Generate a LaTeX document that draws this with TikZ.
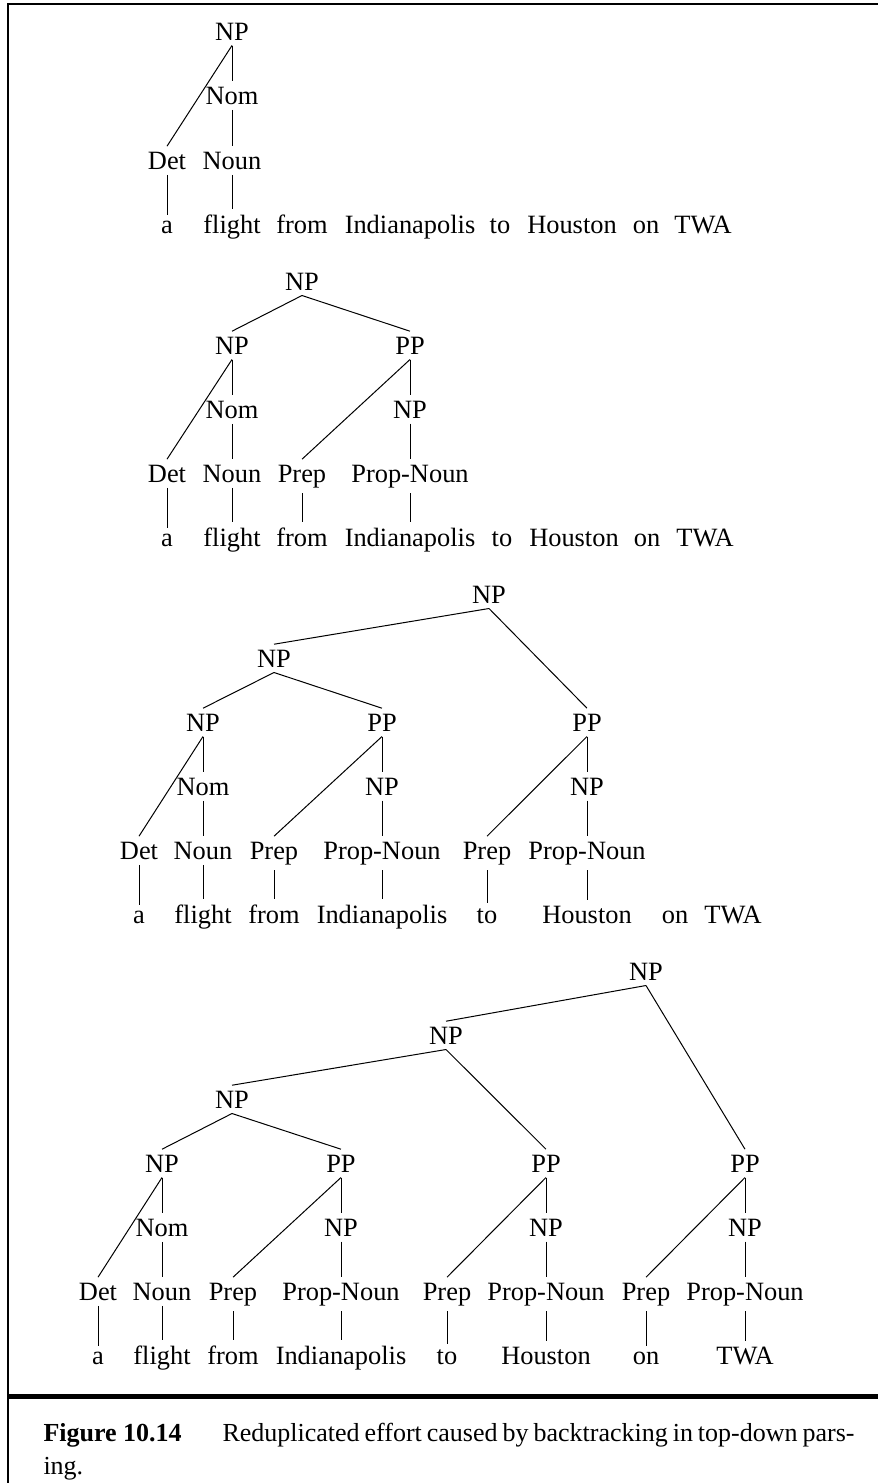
\documentclass[tikz,border=0pt]{standalone}
\usepackage{fontspec}
\setmainfont{Liberation Serif}

\begin{document}
\begin{tikzpicture}[x=0.5pt,y=-0.5pt,line width=0.5pt,
    sym/.style={anchor=base,inner xsep=1pt,inner ysep=2.5pt,font=\fontsize{13.2}{15.8}\selectfont},
    capt/.style={anchor=base west,inner sep=0pt,font=\fontsize{13}{15.6}\selectfont}]
  \useasboundingbox (0,0) rectangle (878,1483);

  % frame
  \draw[line width=1pt] (7.5,1483) -- (7.5,4) -- (878,4);
  \draw[line width=2.5pt] (7.5,1396) -- (878,1396);

  % tree 1
  \node[sym] (aNP) at (232,40) {NP};
  \node[sym] (aNom) at (232,104) {Nom};
  \node[sym] (aDet) at (167,169) {Det};
  \node[sym] (aNoun) at (232,169) {Noun};
  \node[sym] (aw1) at (167,233) {a};
  \node[sym] (aw2) at (232,233) {flight};
  \node[sym] (aw3) at (302,233) {from};
  \node[sym] (aw4) at (410,233) {Indianapolis};
  \node[sym] (aw5) at (500,233) {to};
  \node[sym] (aw6) at (572,233) {Houston};
  \node[sym] (aw7) at (646,233) {on};
  \node[sym] (aw8) at (703,233) {TWA};

  \path (aNP.south) edge (aDet.north)
        (aNP.south) edge (aNom.north)
        (aNom.south) edge (aNoun.north)
        (aDet.south) edge (aw1.north)
        (aNoun.south) edge (aw2.north);

  % tree 2
  \node[sym] (bNP) at (302,290) {NP};
  \node[sym] (bNPa) at (232,354) {NP};
  \node[sym] (bPP) at (410,354) {PP};
  \node[sym] (bNom) at (232,418) {Nom};
  \node[sym] (bNPb) at (410,418) {NP};
  \node[sym] (bDet) at (167,482) {Det};
  \node[sym] (bNoun) at (232,482) {Noun};
  \node[sym] (bPrep) at (302,482) {Prep};
  \node[sym] (bPN) at (410,482) {Prop-Noun};
  \node[sym] (bw1) at (167,546) {a};
  \node[sym] (bw2) at (232,546) {flight};
  \node[sym] (bw3) at (302,546) {from};
  \node[sym] (bw4) at (410,546) {Indianapolis};
  \node[sym] (bw5) at (502,546) {to};
  \node[sym] (bw6) at (574,546) {Houston};
  \node[sym] (bw7) at (647,546) {on};
  \node[sym] (bw8) at (705,546) {TWA};

  \path (bNP.south) edge (bNPa.north)
        (bNP.south) edge (bPP.north)
        (bNPa.south) edge (bDet.north)
        (bNPa.south) edge (bNom.north)
        (bNom.south) edge (bNoun.north)
        (bPP.south) edge (bPrep.north)
        (bPP.south) edge (bNPb.north)
        (bNPb.south) edge (bPN.north)
        (bDet.south) edge (bw1.north)
        (bNoun.south) edge (bw2.north)
        (bPrep.south) edge (bw3.north)
        (bPN.south) edge (bw4.north);

  % tree 3
  \node[sym] (cNP) at (489,603) {NP};
  \node[sym] (cNPa) at (274,667) {NP};
  \node[sym] (cNPb) at (203,731) {NP};
  \node[sym] (cPPa) at (382,731) {PP};
  \node[sym] (cPPb) at (587,731) {PP};
  \node[sym] (cNom) at (203,795) {Nom};
  \node[sym] (cNPc) at (382,795) {NP};
  \node[sym] (cNPd) at (587,795) {NP};
  \node[sym] (cDet) at (139,859) {Det};
  \node[sym] (cNoun) at (203,859) {Noun};
  \node[sym] (cPrepa) at (274,859) {Prep};
  \node[sym] (cPNa) at (382,859) {Prop-Noun};
  \node[sym] (cPrepb) at (487,859) {Prep};
  \node[sym] (cPNb) at (587,859) {Prop-Noun};
  \node[sym] (cw1) at (139,923) {a};
  \node[sym] (cw2) at (203,923) {flight};
  \node[sym] (cw3) at (274,923) {from};
  \node[sym] (cw4) at (382,923) {Indianapolis};
  \node[sym] (cw5) at (487,923) {to};
  \node[sym] (cw6) at (587,923) {Houston};
  \node[sym] (cw7) at (675,923) {on};
  \node[sym] (cw8) at (733,923) {TWA};

  \path (cNP.south) edge (cNPa.north)
        (cNP.south) edge (cPPb.north)
        (cNPa.south) edge (cNPb.north)
        (cNPa.south) edge (cPPa.north)
        (cNPb.south) edge (cDet.north)
        (cNPb.south) edge (cNom.north)
        (cNom.south) edge (cNoun.north)
        (cPPa.south) edge (cPrepa.north)
        (cPPa.south) edge (cNPc.north)
        (cNPc.south) edge (cPNa.north)
        (cPPb.south) edge (cPrepb.north)
        (cPPb.south) edge (cNPd.north)
        (cNPd.south) edge (cPNb.north)
        (cDet.south) edge (cw1.north)
        (cNoun.south) edge (cw2.north)
        (cPrepa.south) edge (cw3.north)
        (cPNa.south) edge (cw4.north)
        (cPrepb.south) edge (cw5.north)
        (cPNb.south) edge (cw6.north);

  % tree 4
  \node[sym] (dNP) at (646,980) {NP};
  \node[sym] (dNPa) at (446,1044) {NP};
  \node[sym] (dNPb) at (232,1108) {NP};
  \node[sym] (dNPc) at (162,1172) {NP};
  \node[sym] (dPPa) at (341,1172) {PP};
  \node[sym] (dPPb) at (546,1172) {PP};
  \node[sym] (dPPc) at (745,1172) {PP};
  \node[sym] (dNom) at (162,1236) {Nom};
  \node[sym] (dNPd) at (341,1236) {NP};
  \node[sym] (dNPe) at (546,1236) {NP};
  \node[sym] (dNPf) at (745,1236) {NP};
  \node[sym] (dDet) at (98,1300) {Det};
  \node[sym] (dNoun) at (162,1300) {Noun};
  \node[sym] (dPrepa) at (233,1300) {Prep};
  \node[sym] (dPNa) at (341,1300) {Prop-Noun};
  \node[sym] (dPrepb) at (447,1300) {Prep};
  \node[sym] (dPNb) at (546,1300) {Prop-Noun};
  \node[sym] (dPrepc) at (646,1300) {Prep};
  \node[sym] (dPNc) at (745,1300) {Prop-Noun};
  \node[sym] (dw1) at (98,1364) {a};
  \node[sym] (dw2) at (162,1364) {flight};
  \node[sym] (dw3) at (233,1364) {from};
  \node[sym] (dw4) at (341,1364) {Indianapolis};
  \node[sym] (dw5) at (447,1364) {to};
  \node[sym] (dw6) at (546,1364) {Houston};
  \node[sym] (dw7) at (646,1364) {on};
  \node[sym] (dw8) at (745,1364) {TWA};

  \path (dNP.south) edge (dNPa.north)
        (dNP.south) edge (dPPc.north)
        (dNPa.south) edge (dNPb.north)
        (dNPa.south) edge (dPPb.north)
        (dNPb.south) edge (dNPc.north)
        (dNPb.south) edge (dPPa.north)
        (dNPc.south) edge (dDet.north)
        (dNPc.south) edge (dNom.north)
        (dNom.south) edge (dNoun.north)
        (dPPa.south) edge (dPrepa.north)
        (dPPa.south) edge (dNPd.north)
        (dNPd.south) edge (dPNa.north)
        (dPPb.south) edge (dPrepb.north)
        (dPPb.south) edge (dNPe.north)
        (dNPe.south) edge (dPNb.north)
        (dPPc.south) edge (dPrepc.north)
        (dPPc.south) edge (dNPf.north)
        (dNPf.south) edge (dPNc.north)
        (dDet.south) edge (dw1.north)
        (dNoun.south) edge (dw2.north)
        (dPrepa.south) edge (dw3.north)
        (dPNa.south) edge (dw4.north)
        (dPrepb.south) edge (dw5.north)
        (dPNb.south) edge (dw6.north)
        (dPrepc.south) edge (dw7.north)
        (dPNc.south) edge (dw8.north);

  % caption
  \node[capt] (capnum) at (43,1441) {\textbf{Figure 10.14}};
  \node[capt] (captxt) at (222,1441) {\makebox[316pt][s]{Reduplicated effort caused by backtracking in top-down pars-}};
  \node[capt] (capend) at (43,1474) {ing.};
\end{tikzpicture}
\end{document}
